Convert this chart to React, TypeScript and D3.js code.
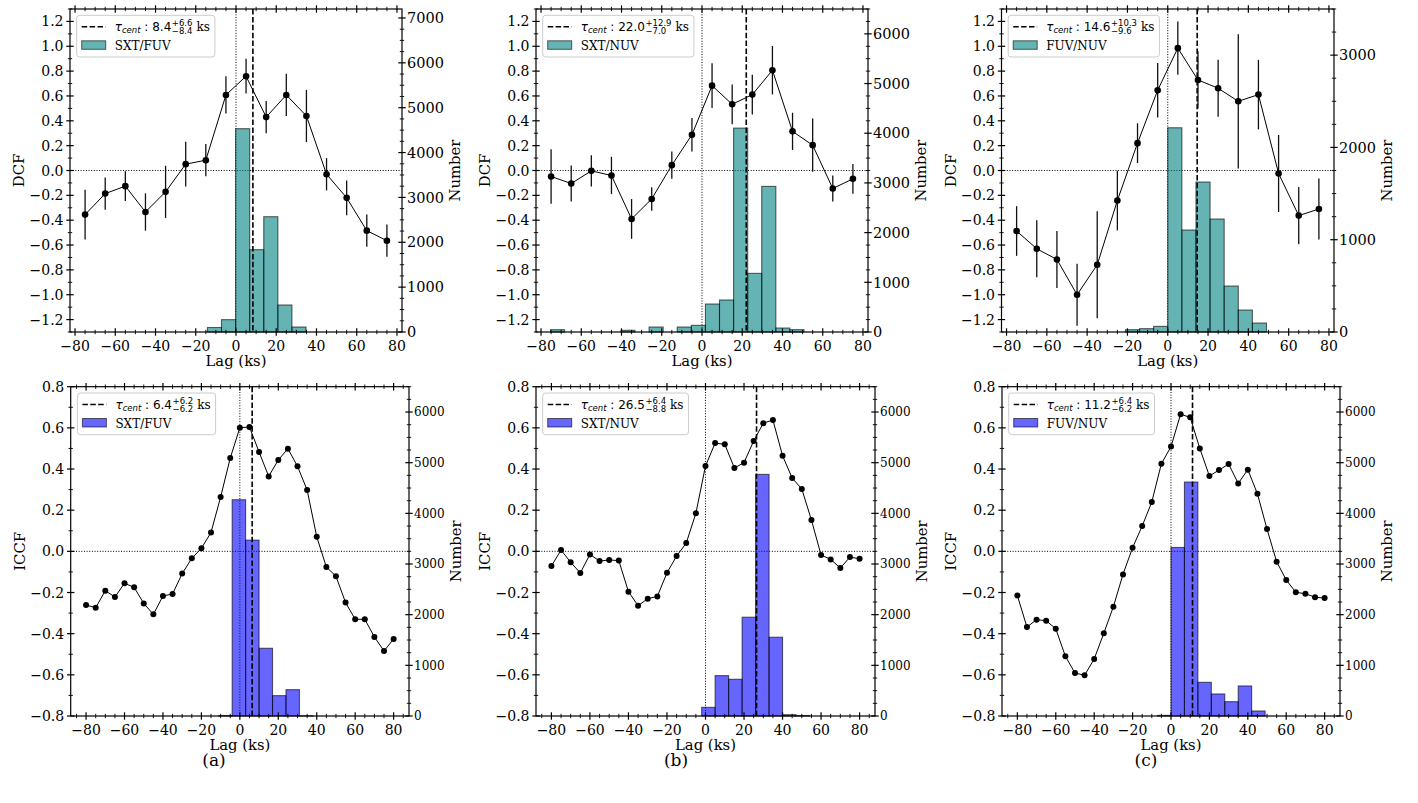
import React, { useEffect, useRef } from 'react';
import * as d3 from 'd3';

// ---- DCF (top row), lags in ks ----
const dcfLags = [-75, -65, -55, -45, -35, -25, -15, -5, 5, 15, 25, 35, 45, 55, 65, 75];
const dcfSxtFuv = [-0.355, -0.186, -0.126, -0.334, -0.172, 0.051, 0.083, 0.608, 0.759, 0.43, 0.608, 0.439, -0.03, -0.22, -0.484, -0.565];
const dcfSxtFuvErr = [0.2, 0.13, 0.12, 0.15, 0.21, 0.18, 0.13, 0.15, 0.14, 0.13, 0.17, 0.21, 0.13, 0.14, 0.13, 0.13];
const dcfSxtNuv = [-0.048, -0.105, -0.003, -0.04, -0.39, -0.229, 0.043, 0.288, 0.683, 0.533, 0.611, 0.807, 0.315, 0.204, -0.145, -0.067];
const dcfSxtNuvErr = [0.22, 0.145, 0.125, 0.15, 0.16, 0.095, 0.11, 0.135, 0.18, 0.16, 0.16, 0.195, 0.15, 0.215, 0.105, 0.12];
const dcfFuvNuv = [-0.487, -0.63, -0.716, -1.0, -0.759, -0.242, 0.22, 0.646, 0.985, 0.729, 0.662, 0.557, 0.611, -0.024, -0.363, -0.31];
const dcfFuvNuvErr = [0.2, 0.23, 0.23, 0.25, 0.43, 0.24, 0.16, 0.22, 0.215, 0.23, 0.23, 0.54, 0.28, 0.31, 0.23, 0.245];

// ---- ICCF (bottom row) ----
const iccfLags = [-80, -75, -70, -65, -60, -55, -50, -45, -40, -35, -30, -25, -20, -15, -10, -5, 0, 5, 10, 15, 20, 25, 30, 35, 40, 45, 50, 55, 60, 65, 70, 75, 80];
const iccfSxtFuv = [-0.261, -0.274, -0.191, -0.222, -0.155, -0.175, -0.253, -0.306, -0.217, -0.207, -0.108, -0.034, 0.015, 0.092, 0.264, 0.453, 0.601, 0.604, 0.483, 0.364, 0.444, 0.499, 0.413, 0.298, 0.071, -0.076, -0.121, -0.249, -0.33, -0.33, -0.416, -0.484, -0.426];
const iccfSxtNuv = [-0.071, 0.006, -0.053, -0.105, -0.015, -0.047, -0.042, -0.045, -0.196, -0.264, -0.23, -0.219, -0.104, -0.023, 0.04, 0.185, 0.415, 0.526, 0.52, 0.405, 0.431, 0.536, 0.623, 0.638, 0.465, 0.356, 0.303, 0.152, -0.018, -0.039, -0.081, -0.028, -0.036];
const iccfFuvNuv = [-0.215, -0.368, -0.332, -0.337, -0.376, -0.51, -0.591, -0.602, -0.523, -0.398, -0.269, -0.112, 0.018, 0.123, 0.24, 0.426, 0.509, 0.666, 0.651, 0.5, 0.366, 0.395, 0.424, 0.33, 0.397, 0.28, 0.108, -0.05, -0.139, -0.199, -0.206, -0.223, -0.227];

// ---- centroid distributions: left bin edges (ks) and counts ----
const binWidth = 7;
const dcfSxtFuvBins = [-14.2, -7.2, -0.2, 6.8, 13.8, 20.8, 27.8];
const dcfSxtFuvCounts = [100, 275, 4532, 1835, 2570, 602, 111];
const dcfSxtNuvBins = [-75.3, -40.3, -26.3, -12.3, -5.3, 1.7, 8.7, 15.7, 22.7, 29.7, 36.7, 43.7];
const dcfSxtNuvCounts = [47, 34, 100, 100, 134, 563, 644, 4103, 1180, 2930, 80, 47];
const dcfFuvNuvBins = [-21, -14, -7, 0, 7, 14, 21, 28, 35, 42];
const dcfFuvNuvCounts = [25, 36, 61, 2213, 1105, 1625, 1224, 498, 238, 97];
const iccfSxtFuvBins = [-11, -4, 3, 10, 17, 24, 31];
const iccfSxtFuvCounts = [10, 4269, 3472, 1337, 402, 520, 5];
const iccfSxtNuvBins = [-2, 5, 12, 19, 26, 33, 40, 47];
const iccfSxtNuvCounts = [171, 797, 725, 1950, 4769, 1555, 26, 10];
const iccfFuvNuvBins = [-7, 0, 7, 14, 21, 28, 35, 42];
const iccfFuvNuvCounts = [13, 3327, 4618, 665, 435, 283, 593, 99];

// centroid lags [value, +err, -err]
const tauDcf = [[8.4, 6.6, 8.4], [22.0, 12.9, 7.0], [14.6, 10.3, 9.6]];
const tauIccf = [[6.4, 6.2, 6.2], [26.5, 6.4, 8.8], [11.2, 6.4, 6.2]];

const pairs = ['SXT/FUV', 'SXT/NUV', 'FUV/NUV'];
const captions = ['(a)', '(b)', '(c)'];

// tick labels
const lagTicks = [-80, -60, -40, -20, 0, 20, 40, 60, 80];
const dcfTicks = [-1.2, -1.0, -0.8, -0.6, -0.4, -0.2, 0.0, 0.2, 0.4, 0.6, 0.8, 1.0, 1.2];
const iccfTicks = [-0.8, -0.6, -0.4, -0.2, 0.0, 0.2, 0.4, 0.6, 0.8];
const numberTicks = [0, 1000, 2000, 3000, 4000, 5000, 6000, 7000];

const SERIF = 'DejaVu Serif';
const SANS = 'DejaVu Sans';

const topBoxes = [
  { left: 70, right: 402 },
  { left: 536, right: 868 },
  { left: 1001.5, right: 1334 },
];
const bottomBoxes = [
  { left: 70.7, right: 409 },
  { left: 536, right: 875 },
  { left: 1002, right: 1340 },
];

const panels = [
  ...[0, 1, 2].map((i) => ({
    box: { ...topBoxes[i], top: 9, bottom: 332 },
    xDomain: [-82.5, 82.5],
    yDomain: [-1.3, 1.3],
    yTicks: dcfTicks,
    yLabel: 'DCF',
    lags: dcfLags,
    vals: [dcfSxtFuv, dcfSxtNuv, dcfFuvNuv][i],
    errs: [dcfSxtFuvErr, dcfSxtNuvErr, dcfFuvNuvErr][i],
    bins: [dcfSxtFuvBins, dcfSxtNuvBins, dcfFuvNuvBins][i],
    counts: [dcfSxtFuvCounts, dcfSxtNuvCounts, dcfFuvNuvCounts][i],
    rMax: [7200, 6500, 3500][i],
    rFont: 14.5,
    rLabelOff: 53,
    tau: tauDcf[i],
    pair: pairs[i],
    color: '#008080',
    r: 3.3,
  })),
  ...[0, 1, 2].map((i) => ({
    box: { ...bottomBoxes[i], top: 386.7, bottom: 716 },
    xDomain: [-88, 88],
    yDomain: [-0.8, 0.8],
    yTicks: iccfTicks,
    yLabel: 'ICCF',
    lags: iccfLags,
    vals: [iccfSxtFuv, iccfSxtNuv, iccfFuvNuv][i],
    errs: null,
    bins: [iccfSxtFuvBins, iccfSxtNuvBins, iccfFuvNuvBins][i],
    counts: [iccfSxtFuvCounts, iccfSxtNuvCounts, iccfFuvNuvCounts][i],
    rMax: 6500,
    rFont: 12,
    rLabelOff: 47,
    tau: tauIccf[i],
    pair: pairs[i],
    color: '#0000ff',
    r: 3.0,
  })),
];

function fmt(v: number, digits: number) {
  const s = Math.abs(v) < 1e-9 ? (0).toFixed(digits) : v.toFixed(digits);
  return s.replace('-', '\u2212');
}

function drawPanel(svg: any, p: any) {
  const { left, right, top, bottom } = p.box;
  const x = d3.scaleLinear().domain(p.xDomain).range([left, right]);
  const y = d3.scaleLinear().domain(p.yDomain).range([bottom, top]);
  const yr = d3.scaleLinear().domain([0, p.rMax]).range([bottom, top]);
  const g = svg.append('g');

  // zero reference lines
  g.append('line')
    .attr('x1', left).attr('x2', right).attr('y1', y(0)).attr('y2', y(0))
    .attr('stroke', '#000').attr('stroke-width', 1).attr('stroke-dasharray', '1,1.65');
  g.append('line')
    .attr('x1', x(0)).attr('x2', x(0)).attr('y1', top).attr('y2', bottom)
    .attr('stroke', '#000').attr('stroke-width', 1).attr('stroke-dasharray', '1,1.65');

  // histogram of centroids (right axis)
  g.selectAll(null)
    .data(p.bins.map((b: number, i: number) => ({ b, n: p.counts[i] })))
    .join('rect')
    .attr('x', (d: any) => x(d.b))
    .attr('width', (d: any) => x(d.b + binWidth) - x(d.b))
    .attr('y', (d: any) => yr(d.n))
    .attr('height', (d: any) => yr(0) - yr(d.n))
    .attr('fill', p.color).attr('fill-opacity', 0.6)
    .attr('stroke', '#000').attr('stroke-opacity', 0.6).attr('stroke-width', 1.1);

  // centroid lag
  g.append('line')
    .attr('x1', x(p.tau[0])).attr('x2', x(p.tau[0])).attr('y1', top).attr('y2', bottom)
    .attr('stroke', '#000').attr('stroke-width', 1.6).attr('stroke-dasharray', '5.5,2.4');

  // error bars
  if (p.errs) {
    g.selectAll(null)
      .data(p.lags.map((l: number, i: number) => ({ l, v: p.vals[i], e: p.errs[i] })))
      .join('line')
      .attr('x1', (d: any) => x(d.l)).attr('x2', (d: any) => x(d.l))
      .attr('y1', (d: any) => y(d.v - d.e)).attr('y2', (d: any) => y(d.v + d.e))
      .attr('stroke', '#111').attr('stroke-width', 1.3);
  }

  // correlation curve
  const line = d3.line<number>().x((d, i) => x(p.lags[i])).y((d) => y(d));
  g.append('path').attr('d', line(p.vals)).attr('fill', 'none').attr('stroke', '#000').attr('stroke-width', 1);
  g.selectAll(null)
    .data(p.vals)
    .join('circle')
    .attr('cx', (d: number, i: number) => x(p.lags[i]))
    .attr('cy', (d: number) => y(d))
    .attr('r', p.r)
    .attr('fill', '#000');

  // frame
  g.append('rect')
    .attr('x', left).attr('y', top).attr('width', right - left).attr('height', bottom - top)
    .attr('fill', 'none').attr('stroke', '#000').attr('stroke-width', 1.2);

  // ticks (in-out)
  const maj = 3.7;
  const mnr = 2.2;
  const tg = g.append('g').attr('stroke', '#000');
  const xMinor = d3.range(-17, 18).map((k) => k * 5).filter((v) => v >= p.xDomain[0] && v <= p.xDomain[1] && v % 20 !== 0);
  [bottom, top].forEach((yy) => {
    lagTicks.forEach((v) => tg.append('line').attr('x1', x(v)).attr('x2', x(v)).attr('y1', yy - maj).attr('y2', yy + maj).attr('stroke-width', 1.2));
    xMinor.forEach((v) => tg.append('line').attr('x1', x(v)).attr('x2', x(v)).attr('y1', yy - mnr).attr('y2', yy + mnr).attr('stroke-width', 0.9));
  });
  const yMinor = d3.range(Math.ceil(p.yDomain[0] * 10 - 1e-6), Math.floor(p.yDomain[1] * 10 + 1e-6) + 1)
    .filter((k) => k % 2 !== 0).map((k) => k / 10);
  p.yTicks.forEach((v: number) => tg.append('line').attr('x1', left - maj).attr('x2', left + maj).attr('y1', y(v)).attr('y2', y(v)).attr('stroke-width', 1.2));
  yMinor.forEach((v) => tg.append('line').attr('x1', left - mnr).attr('x2', left + mnr).attr('y1', y(v)).attr('y2', y(v)).attr('stroke-width', 0.9));
  const rMajor = numberTicks.filter((v) => v <= p.rMax);
  const rMinor = d3.range(0, p.rMax + 1, 250).filter((v) => v % 1000 !== 0);
  rMajor.forEach((v) => tg.append('line').attr('x1', right - maj).attr('x2', right + maj).attr('y1', yr(v)).attr('y2', yr(v)).attr('stroke-width', 1.2));
  rMinor.forEach((v) => tg.append('line').attr('x1', right - mnr).attr('x2', right + mnr).attr('y1', yr(v)).attr('y2', yr(v)).attr('stroke-width', 0.9));

  // tick labels
  const lab = g.append('g').attr('font-family', SERIF).attr('fill', '#000');
  lagTicks.forEach((v) => lab.append('text').attr('x', x(v)).attr('y', bottom + 18.5).attr('text-anchor', 'middle').attr('font-size', 14).text(fmt(v, 0)));
  p.yTicks.forEach((v: number) => lab.append('text').attr('x', left - 6.5).attr('y', y(v)).attr('dy', '0.36em').attr('text-anchor', 'end').attr('font-size', 14).text(fmt(v, 1)));
  rMajor.forEach((v) => lab.append('text').attr('x', right + 5).attr('y', yr(v)).attr('dy', '0.36em').attr('text-anchor', 'start').attr('font-size', p.rFont).text(String(v)));

  // axis labels
  const mid = (top + bottom) / 2;
  lab.append('text').attr('x', (left + right) / 2).attr('y', bottom + 33.5).attr('text-anchor', 'middle').attr('font-size', 14.8).text('Lag (ks)');
  lab.append('text').attr('transform', `translate(${left - 51},${mid}) rotate(-90)`).attr('dy', '0.36em').attr('text-anchor', 'middle').attr('font-size', 14.8).text(p.yLabel);
  lab.append('text').attr('transform', `translate(${right + p.rLabelOff},${mid}) rotate(-90)`).attr('dy', '0.36em').attr('text-anchor', 'middle').attr('font-size', 14.8).text('Number');

  // legend
  const bx = left + 6.7;
  const by = top + 6.3;
  const lg = g.append('g');
  const box = lg.append('rect').attr('x', bx).attr('y', by).attr('height', 41.7).attr('rx', 3)
    .attr('fill', '#fff').attr('fill-opacity', 0.8).attr('stroke', '#ccc').attr('stroke-width', 1);
  lg.append('line').attr('x1', bx + 5).attr('x2', bx + 29).attr('y1', by + 11.5).attr('y2', by + 11.5)
    .attr('stroke', '#000').attr('stroke-width', 1.6).attr('stroke-dasharray', '5.5,2.4');
  lg.append('rect').attr('x', bx + 5).attr('y', by + 25.5).attr('width', 24).attr('height', 8.5)
    .attr('fill', p.color).attr('fill-opacity', 0.6).attr('stroke', '#000').attr('stroke-opacity', 0.6).attr('stroke-width', 1);
  const tx = bx + 38;
  const b1 = by + 15.5;
  const t1 = lg.append('text').attr('x', tx).attr('y', b1).attr('font-family', SANS).attr('font-size', 12);
  t1.append('tspan').attr('font-style', 'italic').text('\u03c4');
  t1.append('tspan').attr('font-style', 'italic').attr('font-size', 8.5).attr('dy', 2.5).text('cent');
  t1.append('tspan').attr('dy', -2.5).text('\u00a0:\u00a0' + p.tau[0].toFixed(1));
  const w1 = (t1.node() as SVGTextElement).getComputedTextLength();
  const sx = tx + w1 + 0.5;
  const sup = lg.append('text').attr('x', sx).attr('y', b1 - 5).attr('font-family', SANS).attr('font-size', 8.5).text('+' + p.tau[1].toFixed(1));
  const sub = lg.append('text').attr('x', sx).attr('y', b1 + 3).attr('font-family', SANS).attr('font-size', 8.5).text('\u2212' + p.tau[2].toFixed(1));
  const ws = Math.max((sup.node() as SVGTextElement).getComputedTextLength(), (sub.node() as SVGTextElement).getComputedTextLength());
  const ks = lg.append('text').attr('x', sx + ws + 4).attr('y', b1).attr('font-family', SERIF).attr('font-size', 12).text('ks');
  const endX = sx + ws + 4 + (ks.node() as SVGTextElement).getComputedTextLength();
  lg.append('text').attr('x', tx).attr('y', by + 34.5).attr('font-family', SERIF).attr('font-size', 12).text(p.pair);
  box.attr('width', endX - bx + 5);
}

function App() {
  const svgRef = useRef<SVGSVGElement>(null);

  useEffect(() => {
    const svg = d3.select(svgRef.current);
    svg.selectAll('*').remove();
    svg.append('rect').attr('width', 1418).attr('height', 803).attr('fill', '#fff');
    panels.forEach((p) => drawPanel(svg, p));
    const capX = [214, 676, 1146];
    captions.forEach((c, i) => {
      svg.append('text').attr('x', capX[i]).attr('y', 766).attr('text-anchor', 'middle')
        .attr('font-family', SERIF).attr('font-size', 17).text(c);
    });
  }, []);

  return (
    <svg ref={svgRef} width={1418} height={803} style={{ position: 'absolute', left: 0, top: 0 }}></svg>
  );
}

export default App;
